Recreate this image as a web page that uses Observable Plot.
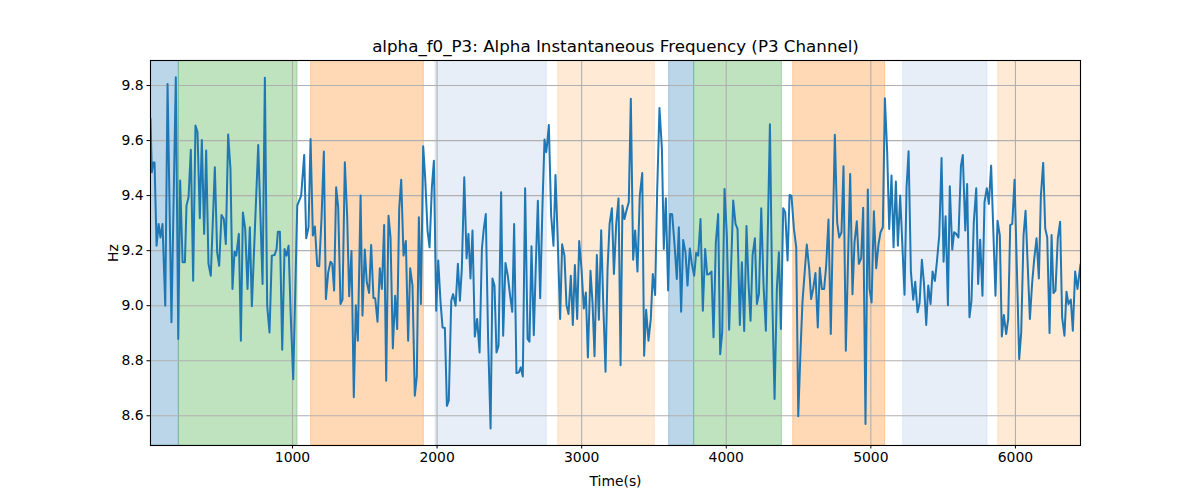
<!DOCTYPE html>
<html>
<head>
<meta charset="utf-8">
<script src="https://cdn.jsdelivr.net/npm/d3@7"></script>
<script src="https://cdn.jsdelivr.net/npm/@observablehq/plot@0.6"></script>
<style>
  html, body { margin: 0; padding: 0; background: white; }
  #chart { width: 1200px; height: 500px; }
</style>
</head>
<body>
<div id="chart"></div>
<script>
const titleText = "alpha_f0_P3: Alpha Instantaneous Frequency (P3 Channel)";
const xLabel = "Time(s)";
const yLabel = "Hz";

const xTicks = [1000, 2000, 3000, 4000, 5000, 6000];
const yTicks = [8.6, 8.8, 9.0, 9.2, 9.4, 9.6, 9.8];

// Background stage bands
const bandStage = ["S1", "S2", "S3", "S4", "S5", "S1", "S2", "S3", "S4", "S5"];
const bandStart = [0, 214, 1129, 1989, 2838, 3605, 3778, 4463, 5224, 5881];
const bandEnd   = [214, 1035, 1909, 2759, 3506, 3778, 4385, 5099, 5807, 6500];

// Time series (seconds, Hz)
const times = [
  18,27,37,46,60,74,87,101,120,136,163,193,210,223,240,256,267,281,297,313,329,343,359,373,389,403,419,435,463,479,493,509,525,539,555,571,585,599,611,629,643,657,673,689,705,719,763,793,809,825,841,
  857,876,890,899,913,929,945,959,973,987,1005,1033,1051,1060,1081,1095,1111,1125,1141,1155,1171,1185,1201,1217,1231,1247,1263,1275,1288,1302,1316,1332,1346,1362,1378,1392,1408,1424,1438,1452,1471,1484,1500,1514,1530,1544,1560,1572,1588,1604,1618,1634,1648,1664,
  1678,1694,1710,1724,1738,1752,1768,1784,1800,1814,1830,1846,1860,1874,1888,1904,1918,1934,1948,1964,1978,1994,2008,2024,2038,2054,2068,2081,2098,2111,2128,2144,2158,2171,2188,2204,2217,2231,2245,2261,2277,2294,2310,2323,2337,2353,2370,2383,2397,2411,2425,2443,2457,2473,2489,
  2503,2520,2533,2549,2566,2579,2593,2609,2626,2639,2653,2669,2683,2697,2713,2729,2743,2755,2762,2773,2789,2805,2819,2835,2851,2865,2881,2895,2909,2925,2939,2953,2969,2983,2999,3015,3029,3043,3061,3075,3089,3105,3119,3135,3149,3165,3179,3193,3209,3223,3239,3255,3269,3282,3296,3313,3326,
  3340,3356,3370,3386,3402,3419,3432,3446,3462,3478,3492,3508,3522,3538,3555,3568,3582,3598,3612,3626,3642,3658,3672,3688,3702,3718,3732,3748,3762,3778,3792,3806,3822,3838,3854,3868,3882,3898,3912,3928,3944,3958,3972,3988,4004,4020,4048,4064,4078,4094,4108,4124,4140,4154,
  4168,4182,4198,4212,4226,4242,4258,4274,4302,4318,4334,4350,4364,4378,4394,4408,4424,4438,4451,4468,4484,4498,4514,4527,4544,4557,4574,4587,4601,4617,4633,4647,4661,4677,4691,4707,4723,4737,4751,4767,4781,4797,4811,4827,4843,4857,4873,4887,4903,4917,4933,4947,4963,4979,
  4991,5005,5021,5037,5053,5067,5083,5097,5113,5127,5143,5157,5173,5187,5203,5217,5233,5247,5261,5277,5293,5307,5323,5337,5353,5367,5383,5397,5413,5427,5443,5457,5473,5489,5503,5517,5533,5546,5563,5576,5590,5606,5623,5636,5653,5666,5682,5696,5712,5729,5742,5756,5772,5786,5802,5816,
  5832,5862,5876,5892,5906,5920,5936,5950,5964,5978,5994,6010,6026,6040,6056,6070,6086,6100,6116,6130,6146,6162,6176,6192,6206,6220,6236,6250,6263,6277,6293,6309,6323,6339,6353,6367,6383,6397,6413,6429,6450
];
const values = [
  9.68,9.485,9.52,9.52,9.218,9.297,9.248,9.297,9.0,9.806,8.94,9.83,8.879,9.455,9.158,9.158,9.364,9.394,9.567,9.091,9.655,9.63,9.318,9.602,9.261,9.564,9.152,9.109,9.503,9.194,9.145,9.33,9.315,9.224,9.622,9.497,9.061,9.196,9.182,9.261,8.873,9.339,9.279,9.061,9.285,8.998,9.584,9.079,9.828,9.0,8.903,
  9.182,9.184,9.206,9.269,9.269,8.84,9.206,9.182,9.218,8.976,8.733,9.364,9.388,9.4,9.548,9.245,9.285,9.606,9.255,9.288,9.145,9.143,9.321,9.56,9.024,9.121,9.16,9.152,9.055,9.43,9.358,9.006,9.022,9.521,9.327,9.034,9.199,8.667,9.002,8.873,9.4,8.964,9.204,9.085,9.046,9.221,9.028,9.027,8.942,9.136,9.061,9.293,8.727,9.327,
  9.248,8.845,9.036,8.915,9.352,9.458,9.182,9.235,8.873,9.136,9.073,8.673,8.745,9.321,9.006,9.579,9.461,9.273,9.212,9.43,9.527,8.982,9.164,9.012,8.921,8.919,8.636,8.655,9.018,9.042,9.0,9.152,9.018,9.133,9.467,9.172,9.261,9.099,9.273,8.888,8.952,8.83,9.206,9.279,9.333,8.879,8.554,9.099,9.073,8.83,8.855,9.412,8.891,9.155,9.109,
  9.046,8.978,9.297,8.755,8.758,8.776,8.743,9.427,8.879,8.869,9.216,8.893,9.148,9.381,9.027,9.364,9.604,9.558,9.592,9.657,9.327,9.218,9.475,9.23,8.952,9.223,9.182,9.002,8.97,9.109,8.93,9.148,8.952,9.235,9.133,8.99,9.048,8.812,9.127,9.012,8.816,9.184,8.949,9.274,9.012,8.76,9.133,9.297,9.354,9.115,9.297,9.39,8.784,9.364,9.315,9.352,9.376,
  9.752,9.167,9.273,9.124,9.4,9.482,8.818,8.985,8.873,8.952,9.115,9.039,9.412,9.718,9.57,9.206,9.39,9.055,9.333,9.332,9.224,9.097,9.285,8.978,9.239,9.194,9.073,9.208,9.152,9.109,9.192,9.182,9.315,8.982,9.206,9.113,9.115,9.124,8.885,9.23,9.333,8.824,8.903,9.424,9.255,8.913,9.382,9.297,9.279,8.93,9.158,8.908,9.29,9.08,
  8.945,9.184,9.245,9.006,9.042,9.354,9.073,8.909,9.659,9.036,8.661,9.061,9.194,8.915,9.354,9.339,9.164,9.402,9.4,9.279,9.212,8.598,8.842,9.012,9.133,9.222,9.133,9.024,9.061,9.119,8.921,9.138,9.061,9.061,9.145,9.313,8.897,9.267,9.621,9.303,9.248,9.267,9.507,8.836,9.182,9.479,9.042,9.23,9.307,9.152,9.172,9.356,8.57,9.422,
  9.061,9.012,9.343,9.136,9.224,9.267,9.285,9.754,9.558,9.279,9.473,9.212,9.451,9.218,9.4,9.23,9.04,9.43,9.561,9.124,9.022,9.087,8.976,9.01,9.167,9.085,8.93,9.073,9.006,9.124,9.09,9.16,9.255,9.537,9.16,9.325,9.002,9.434,9.204,9.267,9.261,9.248,9.507,9.548,9.273,9.442,8.958,9.018,9.303,9.427,9.079,9.24,9.036,9.376,9.427,9.37,
  9.509,9.036,9.309,9.255,8.888,8.966,8.897,8.952,9.293,9.297,9.458,9.133,8.806,8.903,9.255,9.345,9.133,8.952,9.085,9.17,9.245,9.099,9.4,9.519,9.281,9.248,8.901,9.257,9.046,9.055,9.245,9.305,8.958,8.891,9.051,9.006,9.022,8.909,9.124,9.061,9.15
];

const series = times.map((t, i) => ({t, v: values[i]}));
const bands = bandStage.map((s, i) => ({stage: s, start: bandStart[i], end: bandEnd[i]}));

const stageColors = {
  domain: ["S1", "S2", "S3", "S4", "S5"],
  range: ["#1f77b4", "#2ca02c", "#ff7f0e", "#aec7e8", "#ffbb78"]
};
const colorOf = d3.scaleOrdinal(stageColors.domain, stageColors.range);

const chart = Plot.plot({
  width: 1200,
  height: 500,
  marginLeft: 150,
  marginRight: 120,
  marginTop: 60,
  marginBottom: 55,
  style: {fontFamily: "DejaVu Sans", fontSize: "13.9px", color: "black", background: "white"},
  x: {domain: [18, 6450]},
  y: {domain: [8.492, 9.891]},
  marks: [
    Plot.rect(bands, {x1: "start", x2: "end", fill: d => colorOf(d.stage), fillOpacity: 0.3,
      stroke: d => colorOf(d.stage), strokeOpacity: 0.3, strokeWidth: 1, clip: true}),
    Plot.gridX(xTicks, {stroke: "#b0b0b0", strokeOpacity: 1, strokeWidth: 1.1}),
    Plot.gridY(yTicks, {stroke: "#b0b0b0", strokeOpacity: 1, strokeWidth: 1.1}),
    Plot.line(series, {x: "t", y: "v", stroke: "#1f77b4", strokeWidth: 2, clip: true}),
    Plot.frame({stroke: "black", strokeWidth: 1.1}),
    Plot.axisX({ticks: xTicks, tickFormat: d => String(d), tickSize: 3.5, tickPadding: 3.5, label: null, stroke: "black"}),
    Plot.axisY({ticks: yTicks, tickFormat: d3.format(".1f"), tickSize: 3.5, tickPadding: 3.5, label: null, stroke: "black"}),
    Plot.text([titleText], {frameAnchor: "top", lineAnchor: "middle", dy: -14, fontSize: 16.7, fill: "black", textAnchor: "middle"}),
    Plot.text([xLabel], {frameAnchor: "bottom", lineAnchor: "middle", dy: 36, fontSize: 13.9, fill: "black", textAnchor: "middle"}),
    Plot.text([yLabel], {frameAnchor: "left", lineAnchor: "middle", dx: -37, rotate: -90, fontSize: 13.9, fill: "black", textAnchor: "middle"})
  ]
});
document.getElementById("chart").appendChild(chart);
</script>
</body>
</html>
